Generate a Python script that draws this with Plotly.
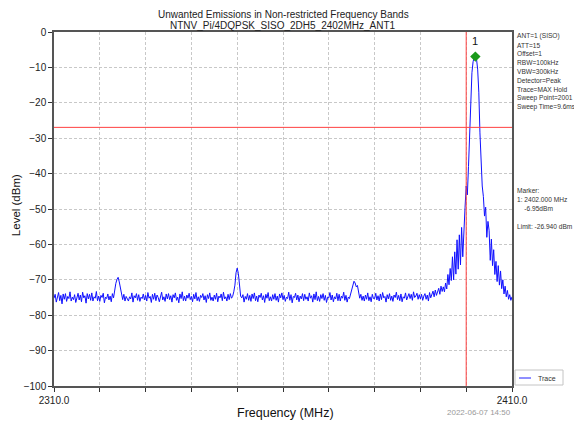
import plotly.graph_objects as go

# --- sweep settings / data ---
freq_start = 2310.0
freq_step = 0.25

level_dbm = [
    -75.2, -74.1, -76.3, -74.8, -73.6, -75.9, -74.4, -76.8, -74.0, -75.5, -73.9, -76.1, -74.7, -75.3, -73.4, -76.0, -74.9, -75.6, -74.2, -76.4,
    -74.6, -73.8, -75.7, -74.3, -76.2, -73.5, -75.1, -74.5, -76.6, -73.9, -75.4, -74.1, -75.8, -73.7, -76.0, -74.8, -75.2, -73.3, -75.9, -74.6,
    -76.1, -74.4, -75.0, -73.8, -76.5, -74.9, -75.3, -74.0, -75.7, -74.6, -76.2, -73.9, -75.1, -72.8, -71.0, -69.9, -69.3, -70.6, -72.5, -74.8,
    -75.6, -74.1, -76.0, -74.7, -75.3, -76.0, -74.8, -75.4, -73.7, -76.3, -74.5, -75.1, -73.9, -75.8, -74.2, -76.1, -74.9, -75.3, -74.0, -75.7,
    -74.4, -76.0, -73.6, -75.2, -74.7, -76.4, -74.1, -75.5, -73.8, -75.9, -74.3, -75.0, -76.2, -74.6, -73.5, -75.7, -74.8, -76.1, -74.0, -75.4,
    -73.9, -75.6, -74.5, -76.3, -74.2, -75.1, -73.7, -75.8, -74.9, -76.5, -74.0, -75.3, -73.4, -75.9, -74.6, -76.0, -74.3, -75.2, -73.8, -75.6,
    -74.7, -76.2, -74.1, -75.4, -73.6, -75.9, -74.8, -76.1, -74.4, -75.0, -73.9, -75.7, -74.5, -76.4, -74.2, -75.3, -73.7, -75.8, -74.9, -76.0,
    -74.3, -75.5, -73.8, -76.2, -74.6, -75.1, -74.0, -75.9, -73.5, -75.4, -74.8, -76.0, -74.1, -75.6, -73.9, -75.2, -74.7, -73.4, -71.5, -68.0,
    -66.7, -68.2, -71.9, -74.6, -75.1, -74.2, -76.3, -74.7, -75.5, -73.9, -75.8, -74.4, -76.1, -74.0, -75.3, -73.7, -75.9, -74.6, -76.2, -74.3,
    -75.0, -73.8, -75.7, -74.5, -76.4, -74.1, -75.2, -73.6, -75.9, -74.8, -76.0, -74.2, -75.5, -73.9, -75.8, -74.6, -76.3, -74.0, -75.1, -73.7,
    -75.6, -74.4, -76.1, -74.9, -75.3, -73.5, -75.8, -74.2, -76.5, -74.7, -75.0, -73.8, -75.7, -74.3, -76.2, -74.6, -75.4, -73.9, -75.9, -74.1,
    -75.5, -74.8, -76.0, -73.7, -75.2, -74.5, -76.3, -74.0, -75.6, -73.4, -75.9, -74.7, -76.1, -74.2, -75.3, -73.9, -75.8, -74.4, -76.4, -74.9,
    -75.1, -73.6, -75.7, -74.3, -76.2, -74.8, -75.4, -73.8, -75.9, -74.1, -76.0, -74.6, -75.2, -73.5, -75.8, -74.4, -76.3, -74.9, -75.3, -74.0,
    -73.5, -71.8, -70.4, -70.9, -72.0, -71.6, -73.4, -75.2, -74.1, -75.8, -74.6, -76.0, -74.3, -75.5, -73.7, -75.9, -74.8, -76.2, -74.1, -75.3,
    -75.3, -73.8, -75.7, -74.5, -76.0, -74.0, -75.6, -73.6, -75.1, -74.7, -76.3, -74.2, -75.4, -73.9, -75.8, -74.6, -76.1, -74.3, -75.0, -73.5,
    -75.6, -74.4, -75.9, -74.0, -76.2, -74.8, -75.2, -73.7, -75.7, -74.5, -73.9, -75.3, -74.1, -75.8, -73.4, -75.0, -74.6, -73.8, -75.5, -74.2,
    -75.4, -74.1, -75.8, -74.6, -73.9, -75.5, -74.3, -76.0, -73.6, -75.1, -74.0, -73.2, -74.8, -72.9, -74.4, -73.5, -72.4, -74.1, -71.8, -73.3,
    -72.0, -73.4, -70.9, -72.6, -68.5, -71.4, -66.8, -70.2, -63.5, -70.0, -62.1, -68.4, -58.7, -67.0, -57.3, -65.8, -55.2, -63.5, -54.0, -49.5,
    -43.5, -46.0, -38.0, -27.0, -17.5, -11.5, -8.4, -7.2, -6.95, -7.6, -10.5, -17.0, -28.5, -39.0, -43.5, -46.5, -52.0, -49.5, -58.0, -53.5,
    -56.0, -64.5, -58.5, -66.0, -61.5, -68.5, -64.8, -70.5, -66.0, -71.5, -67.5, -72.5, -70.0, -74.0, -71.8, -74.8, -73.0, -75.5, -74.2, -75.8,
    -74.8,
]
freq_mhz = [freq_start + i * freq_step for i in range(len(level_dbm))]

marker_freq = 2402.0
marker_level = -6.95
limit_level = -26.94
channel_edge = 2400.0

x_ticks = [2310, 2320, 2330, 2340, 2350, 2360, 2370, 2380, 2390, 2400, 2410]
x_tick_text = ["2310.0", "", "", "", "", "", "", "", "", "", "2410.0"]
y_ticks = [0, -10, -20, -30, -40, -50, -60, -70, -80, -90, -100]

setup_lines = ["ANT=1 (SISO)", "ATT=15", "Offset=1", "RBW=100kHz", "VBW=300kHz",
               "Detector=Peak", "Trace=MAX Hold", "Sweep Point=2001", "Sweep Time=9.6ms"]
marker_lines = ["Marker:", "1: 2402.000 MHz", "    -6.95dBm", "", "Limit: -26.940 dBm"]

FONT = "Liberation Sans, Arial, sans-serif"
TRACE_BLUE = "#1010ff"
LIMIT_RED = "#ff4040"

# the page body has an 8px margin; keep the page from overflowing the window
OFF = 8
W, H = 582, 429
FIG_W, FIG_H = W - OFF, H - 2 * OFF
# plot area in window pixels
L, R, T, B = 54, 512, 31.7, 386
PANEL_RIGHT = 574  # right edge of the info boxes (visible part of the window)


def px(x):
    return (x - L) / (R - L)


def py(y):
    return (B - y) / (B - T)


def text_at(x, y, text, size, color="#222", xanchor="center", **kw):
    return dict(x=px(x), y=py(y), xref="paper", yref="paper", showarrow=False,
                xanchor=xanchor, yanchor="middle", text=text, borderpad=0,
                font=dict(size=size, color=color), **kw)


fig = go.Figure()
fig.add_trace(go.Scatter(x=freq_mhz, y=level_dbm, mode="lines", name="Trace",
                         line=dict(color=TRACE_BLUE, width=1)))
fig.add_trace(go.Scatter(x=[marker_freq], y=[marker_level], mode="markers",
                         marker=dict(symbol="diamond", size=8, color="#1a9a1a")))

fig.add_hline(y=limit_level, line_color=LIMIT_RED, line_width=1)
fig.add_vline(x=channel_edge, line_color=LIMIT_RED, line_width=1)

ann = [
    dict(x=marker_freq, y=marker_level, text="1", showarrow=False, yshift=16,
         font=dict(size=11, color="#111")),
    text_at(283, 14, "Unwanted Emissions in Non-restricted Frequency Bands", 10, "#222"),
    text_at(283, 25, "NTNV_Pi/4DQPSK_SISO_2DH5_2402MHz_ANT1", 10, "#222"),
    text_at(285, 413, "Frequency (MHz)", 12.5, "#111"),
    text_at(16, 205, "Level (dBm)", 11.5, "#111", textangle=-90),
    text_at(512, 413, "2022-06-07 14:50", 8, "#9a9a9a", xanchor="right"),
    text_at(537, 378, "Trace", 7, "#333", xanchor="left"),
]
for i, line in enumerate(setup_lines):
    ann.append(text_at(516, 36 + i * 8.85, line, 6.6, "#333", xanchor="left"))
for i, line in enumerate(marker_lines):
    if line:
        ann.append(text_at(516, 190 + i * 9.1, line.replace(" ", "&nbsp;"), 6.6, "#333",
                           xanchor="left"))

shapes = [
    dict(type="rect", xref="paper", yref="paper", x0=px(514.5), x1=px(PANEL_RIGHT),
         y0=py(112), y1=py(32), line=dict(color="#b8b8b8", width=1)),
    dict(type="rect", xref="paper", yref="paper", x0=px(514), x1=px(PANEL_RIGHT),
         y0=py(232), y1=py(185), line=dict(color="#b8b8b8", width=1)),
    # legend box
    dict(type="rect", xref="paper", yref="paper", x0=px(515), x1=px(563), y0=py(385), y1=py(370),
         line=dict(color="#c4c4c4", width=1), fillcolor="white"),
    dict(type="line", xref="paper", yref="paper", x0=px(519), x1=px(531), y0=py(378), y1=py(378),
         line=dict(color="#6a6aff", width=1.5)),
]

axis_common = dict(showline=True, linecolor="#555", linewidth=1.5, mirror=True,
                   ticks="outside", ticklen=4, tickcolor="#333", automargin=False,
                   showgrid=True, gridcolor="#c8c8c8", gridwidth=1, griddash="3px,2px",
                   zeroline=False, tickfont=dict(size=10, color="#222", family=FONT))

fig.update_layout(
    width=FIG_W, height=FIG_H,
    margin=dict(l=L - OFF, r=(OFF + FIG_W) - R, t=T - OFF, b=(OFF + FIG_H) - B,
                autoexpand=False),
    paper_bgcolor="white", plot_bgcolor="white",
    font=dict(family=FONT),
    xaxis=dict(range=[2310, 2410], tickvals=x_ticks, ticktext=x_tick_text, **axis_common),
    yaxis=dict(range=[-100, 0], tickvals=y_ticks, **axis_common),
    showlegend=False,
    annotations=ann,
    shapes=shapes,
)

fig.write_html("out.html")
